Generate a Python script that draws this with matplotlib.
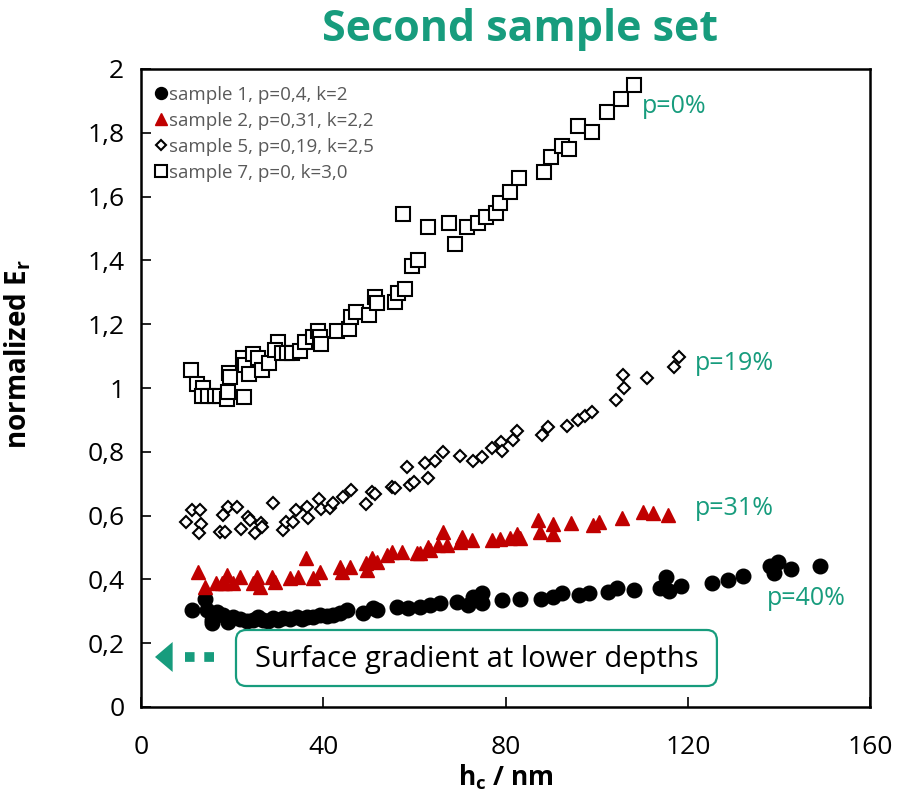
import matplotlib
matplotlib.use("Agg")
import matplotlib.pyplot as plt
from matplotlib.patches import FancyBboxPatch, Polygon
from matplotlib.ticker import FuncFormatter, MultipleLocator

plt.rcParams['font.family'] = ['Open Sans', 'DejaVu Sans']
plt.rcParams['mathtext.fontset'] = 'custom'
plt.rcParams['mathtext.rm'] = 'Open Sans'
plt.rcParams['mathtext.bf'] = 'Open Sans:bold'

TEAL = '#179c7d'
RED = '#c00000'

# sample 1, p=0,4, k=2
s1_h = [11.2, 14.1, 14.5, 15.6, 15.6, 16.7, 18.0, 19.1, 20.2, 21.7,
        23.3, 24.6, 25.7, 26.8, 27.9, 29.0, 30.1, 31.2, 32.7, 34.2,
        35.3, 36.4, 37.8, 39.3, 40.8, 42.1, 43.7, 45.2, 48.7, 50.9,
        51.8, 56.2, 58.6, 61.2, 63.4, 65.6, 69.4, 71.8, 72.9, 74.9,
        74.9, 79.2, 83.2, 87.8, 90.4, 92.4, 96.1, 98.3, 102.5, 104.5,
        108.2, 113.9, 115.2, 115.9, 118.5, 125.3, 128.8, 132.1, 138.1, 139.8,
        138.9, 142.7, 149.0]
s1_E = [0.304, 0.339, 0.304, 0.273, 0.263, 0.298, 0.288, 0.266, 0.282, 0.276,
        0.270, 0.273, 0.282, 0.273, 0.270, 0.279, 0.273, 0.279, 0.276, 0.282,
        0.276, 0.282, 0.282, 0.288, 0.285, 0.288, 0.295, 0.304, 0.295, 0.310,
        0.304, 0.313, 0.310, 0.313, 0.320, 0.326, 0.329, 0.320, 0.345, 0.357,
        0.326, 0.335, 0.339, 0.339, 0.345, 0.357, 0.351, 0.357, 0.361, 0.373,
        0.367, 0.373, 0.408, 0.364, 0.379, 0.389, 0.398, 0.411, 0.442, 0.455,
        0.420, 0.433, 0.442]

# sample 2, p=0,31, k=2,2
s2_h = [12.5, 14.1, 16.5, 17.8, 18.4, 18.9, 20.2, 21.7, 24.6, 25.5,
        26.1, 28.8, 29.4, 32.7, 34.5, 36.2, 37.8, 39.3, 43.7, 44.1,
        45.9, 49.4, 49.6, 50.7, 51.8, 54.0, 55.1, 57.3, 60.6, 61.2,
        63.0, 63.4, 65.2, 66.3, 67.2, 70.0, 70.5, 72.7, 77.0, 78.8,
        81.0, 82.5, 83.2, 87.1, 87.6, 90.4, 90.4, 94.4, 99.2, 100.5,
        105.6, 110.2, 112.4, 115.7]
s2_E = [0.423, 0.376, 0.389, 0.389, 0.389, 0.414, 0.389, 0.408, 0.389, 0.408,
        0.376, 0.408, 0.392, 0.404, 0.408, 0.467, 0.404, 0.423, 0.439, 0.423,
        0.439, 0.451, 0.429, 0.467, 0.455, 0.476, 0.486, 0.486, 0.483, 0.483,
        0.502, 0.492, 0.508, 0.549, 0.508, 0.517, 0.533, 0.524, 0.524, 0.527,
        0.530, 0.542, 0.530, 0.586, 0.549, 0.574, 0.542, 0.577, 0.571, 0.580,
        0.592, 0.611, 0.608, 0.602]

# sample 5, p=0,19, k=2,5
s5_h = [9.9, 11.2, 13.0, 13.2, 12.7, 17.3, 18.0, 19.1, 18.4, 21.1,
        22.0, 23.5, 23.9, 25.0, 26.3, 26.6, 29.0, 31.2, 31.8, 33.4,
        34.0, 36.4, 36.7, 39.1, 39.5, 41.5, 42.1, 44.3, 46.1, 49.4,
        50.7, 51.4, 55.1, 55.8, 58.4, 59.0, 59.9, 62.3, 63.0, 64.5,
        66.3, 70.0, 72.9, 74.9, 77.0, 79.0, 79.2, 81.7, 82.5, 88.0,
        89.3, 93.5, 95.9, 97.5, 99.0, 104.3, 106.0, 105.8, 111.1, 117.0,
        118.1]
s5_E = [0.580, 0.618, 0.618, 0.574, 0.545, 0.549, 0.602, 0.627, 0.549, 0.627,
        0.558, 0.596, 0.586, 0.545, 0.577, 0.564, 0.639, 0.555, 0.580, 0.580,
        0.618, 0.627, 0.592, 0.652, 0.621, 0.624, 0.639, 0.658, 0.680, 0.636,
        0.674, 0.668, 0.690, 0.687, 0.752, 0.696, 0.705, 0.765, 0.718, 0.771,
        0.799, 0.787, 0.771, 0.784, 0.812, 0.831, 0.803, 0.837, 0.865, 0.853,
        0.878, 0.881, 0.900, 0.912, 0.925, 0.962, 1.000, 1.041, 1.031, 1.066,
        1.097]

# sample 7, p=0, k=3,0
s7_h = [11.0, 12.3, 13.6, 13.4, 14.7, 16.2, 17.3, 18.9, 19.1, 22.6,
        19.3, 19.5, 22.4, 22.8, 23.7, 24.6, 25.7, 26.6, 28.1, 30.1,
        29.4, 31.0, 32.1, 33.1, 34.9, 36.0, 37.8, 38.9, 39.3, 39.5,
        43.0, 45.7, 46.1, 47.2, 50.0, 51.4, 51.8, 55.8, 56.4, 58.0,
        59.5, 60.8, 57.5, 63.0, 67.6, 68.9, 71.6, 74.0, 75.7, 77.9,
        78.8, 81.0, 83.0, 88.5, 90.0, 92.4, 93.9, 95.9, 99.0, 102.3,
        105.4, 108.2]
s7_E = [1.056, 1.013, 1.000, 0.975, 0.975, 0.975, 0.975, 0.966, 0.987, 0.972,
        1.047, 1.034, 1.094, 1.072, 1.044, 1.107, 1.094, 1.056, 1.078, 1.144,
        1.119, 1.110, 1.110, 1.110, 1.116, 1.144, 1.160, 1.179, 1.160, 1.138,
        1.179, 1.185, 1.223, 1.238, 1.229, 1.285, 1.266, 1.270, 1.298, 1.310,
        1.382, 1.401, 1.545, 1.505, 1.517, 1.451, 1.505, 1.517, 1.536, 1.549,
        1.580, 1.614, 1.658, 1.677, 1.724, 1.759, 1.749, 1.821, 1.803, 1.865,
        1.906, 1.950]

series_labels = ['sample 1, p=0,4, k=2', 'sample 2, p=0,31, k=2,2',
                 'sample 5, p=0,19, k=2,5', 'sample 7, p=0, k=3,0']

# porosity tags at the end of each curve: (text, h, E)
porosity_labels = [('p=0%', 110.0, 1.862), ('p=19%', 121.6, 1.056),
                   ('p=31%', 121.6, 0.602), ('p=40%', 137.4, 0.320)]

x_ticks = [0, 40, 80, 120, 160]

fig = plt.figure(figsize=(9.08, 8), dpi=100)
ax = fig.add_axes([141 / 908, 1 - 707 / 800, 729 / 908, 638 / 800])

ax.plot(s1_h, s1_E, ls='none', marker='o', ms=10.5, mfc='black', mec='black',
        label=series_labels[0])
ax.plot(s2_h, s2_E, ls='none', marker='^', ms=10.5, mfc=RED, mec=RED,
        label=series_labels[1])
ax.plot(s5_h, s5_E, ls='none', marker='D', ms=6.5, mfc='white', mec='black',
        mew=1.5, label=series_labels[2])
ax.plot(s7_h, s7_E, ls='none', marker='s', ms=10, mfc='white', mec='black',
        mew=1.5, label=series_labels[3])

ax.set_xlim(0, 160)
ax.set_ylim(0, 2)
ax.set_xticks(x_ticks)
ax.yaxis.set_major_locator(MultipleLocator(0.2))


def comma_fmt(v, pos):
    s = f'{v:.1f}'.rstrip('0').rstrip('.')
    return s.replace('.', ',')


ax.yaxis.set_major_formatter(FuncFormatter(comma_fmt))
ax.tick_params(direction='in', length=7, width=1.2, labelsize=19)
ax.tick_params(axis='y', pad=12)
ax.tick_params(axis='x', pad=20)
for sp in ax.spines.values():
    sp.set_linewidth(1.8)

ax.set_xlabel('h$_\\mathregular{c}$ / nm', fontsize=19, fontweight='bold', labelpad=2)
ax.set_ylabel('normalized E$_\\mathregular{r}$', fontsize=20, fontweight='bold')
ax.yaxis.set_label_coords(-0.148, 0.553)

leg = ax.legend(loc='upper left', bbox_to_anchor=(0.018, 0.974), frameon=False,
                borderpad=0, borderaxespad=0, handlelength=0.7, handletextpad=0.1,
                labelspacing=0.43, markerscale=0.82, fontsize=13.5,
                labelcolor='#595959')

for txt, hx, ey in porosity_labels:
    ax.text(hx, ey, txt, color=TEAL, fontsize=18, ha='left', va='baseline')

# callout box with the arrow pointing towards the surface
box = FancyBboxPatch((0.1303, 0.0329), 0.790 - 0.1303, 0.1207 - 0.0329,
                     boxstyle='round,pad=0,rounding_size=0.014',
                     mutation_aspect=729 / 638, transform=ax.transAxes,
                     fc='white', ec=TEAL, lw=1.6, zorder=5)
ax.add_patch(box)
ax.text(0.460, 0.0752, 'Surface gradient at lower depths', transform=ax.transAxes,
        ha='center', va='center', fontsize=21, color='black', zorder=6)

ax.plot([0.0995, 0.0600], [0.0784, 0.0784], transform=ax.transAxes, color=TEAL,
        lw=7, dashes=(1.0, 1.0), solid_capstyle='butt', dash_capstyle='butt',
        zorder=6)
head = Polygon([[0.0192, 0.0784], [0.0434, 0.1019], [0.0434, 0.0549]],
               closed=True, transform=ax.transAxes, fc=TEAL, ec='none', zorder=6)
ax.add_patch(head)

fig.text(520 / 908, 1 - 41 / 800, 'Second sample set', color=TEAL, fontsize=31,
         fontweight='bold', ha='center', va='baseline')

fig.savefig('out.png', dpi=100, facecolor='white')
